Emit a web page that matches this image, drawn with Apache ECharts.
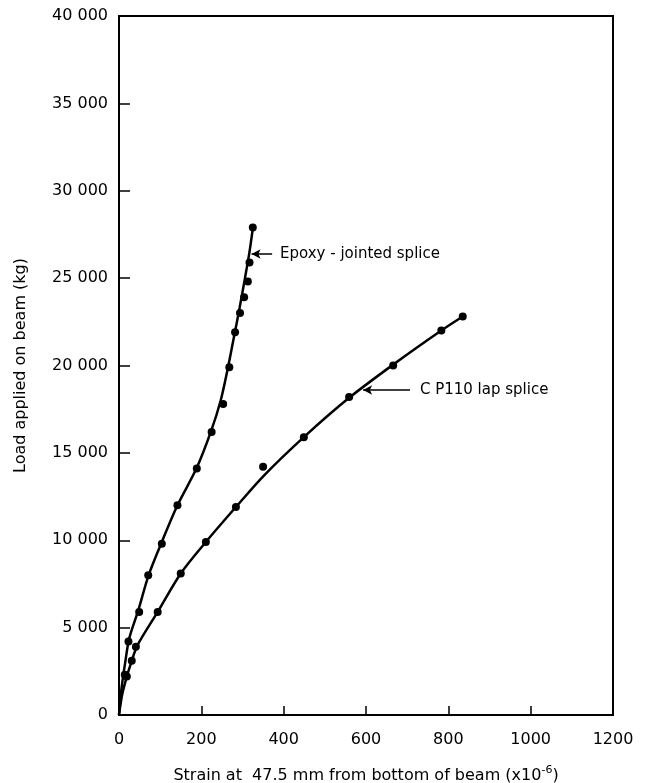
<!DOCTYPE html>
<html>
<head>
<meta charset="utf-8">
<script src="https://cdn.jsdelivr.net/npm/echarts@6/dist/echarts.min.js"></script>
<style>
  html, body { margin: 0; padding: 0; background: #fff; }
  #chart { width: 654px; height: 783px; }
</style>
</head>
<body>
<div id="chart"></div>
<script>
// measured points [strain, load]
const epoxyPoints = [
  [14, 2300], [23, 4200], [49, 5900], [71, 8000], [104, 9800], [142, 12000],
  [189, 14100], [225, 16200], [253, 17800], [268, 19900], [282, 21900],
  [294, 23000], [304, 23900], [313, 24800], [317, 25900], [325, 27900]
];
const lapPoints = [
  [19, 2200], [31, 3100], [41, 3900], [94, 5900], [150, 8100], [211, 9900],
  [284, 11900], [350, 14200], [449, 15900], [559, 18200], [666, 20000],
  [783, 22000], [835, 22800]
];
// fitted curves
const epoxyCurve = [
  [0, 0], [6, 1500], [15, 3000], [25, 4400], [47, 6000], [72, 8000],
  [104, 9900], [142, 12000], [188, 14100], [223, 16200], [247, 18000],
  [264, 19800], [279, 21600], [293, 23300], [306, 25000], [317, 26500], [326, 28000]
];
const lapCurve = [
  [0, 0], [8, 1200], [19, 2200], [31, 3100], [45, 4000], [94, 5900],
  [150, 8100], [211, 9900], [284, 11900], [352, 13700], [449, 15900],
  [559, 18150], [666, 20050], [783, 22000], [835, 22800]
];
// annotation: [arrow tail, arrow head, text anchor]
const epoxyNote = { text: 'Epoxy - jointed splice', tail: [372, 26380], head: [322, 26380], at: [391, 26380] };
const lapNote = { text: 'C P110 lap splice', tail: [707, 18600], head: [593, 18600], at: [731, 18600] };

const xTicks = [0, 200, 400, 600, 800, 1000, 1200];
const yTicks = [0, 5000, 10000, 15000, 20000, 25000, 30000, 35000, 40000];

const FONT = 'DejaVu Sans';
const chart = echarts.init(document.getElementById('chart'));

function fmt(v) {
  return String(v).replace(/\B(?=(\d{3})+(?!\d))/g, ' ');
}

function arrow(note) {
  return {
    silent: true,
    animation: false,
    lineStyle: { color: '#000', width: 1.5, type: 'solid', opacity: 1 },
    label: { show: false },
    data: [[
      { coord: note.tail, symbol: 'none' },
      { coord: note.head, symbol: 'arrow', symbolSize: [7, 9] }
    ]]
  };
}

function noteSeries(note) {
  return {
    type: 'scatter',
    data: [note.at],
    symbolSize: 0,
    silent: true,
    itemStyle: { opacity: 1 },
    label: {
      show: true,
      position: 'right',
      distance: 0,
      formatter: note.text,
      color: '#000',
      fontFamily: FONT,
      fontSize: 15
    }
  };
}

const option = {
  animation: false,
  grid: {
    left: 119, right: 41, top: 16, bottom: 68,
    outerBoundsMode: 'none',
    containLabel: false,
    show: true, borderColor: '#000', borderWidth: 2
  },
  xAxis: {
    type: 'value',
    min: 0, max: 1200, interval: 200,
    name: 'Strain at  47.5 mm from bottom of beam (x10{sup|-6})',
    nameLocation: 'middle',
    nameGap: 50,
    nameTextStyle: {
      color: '#000', fontFamily: FONT, fontSize: 16,
      rich: { sup: { fontSize: 11, fontFamily: FONT, color: '#000', padding: [0, 0, 10, 0] } }
    },
    axisLine: { show: true, lineStyle: { color: '#000', width: 2 } },
    axisTick: { show: true, inside: true, length: 9, lineStyle: { color: '#000', width: 1.5 } },
    axisLabel: { color: '#000', fontFamily: FONT, fontSize: 16, margin: 17,
      formatter: v => xTicks.includes(v) ? String(v) : '' },
    splitLine: { show: false }
  },
  yAxis: {
    type: 'value',
    min: 0, max: 40000, interval: 5000,
    name: 'Load applied on beam (kg)',
    nameLocation: 'middle',
    nameGap: 90,
    nameTextStyle: { color: '#000', fontFamily: FONT, fontSize: 16 },
    axisLine: { show: true, lineStyle: { color: '#000', width: 2 } },
    axisTick: { show: true, inside: true, length: 11, lineStyle: { color: '#000', width: 1.5 } },
    axisLabel: { color: '#000', fontFamily: FONT, fontSize: 16, margin: 11,
      formatter: v => yTicks.includes(v) ? fmt(v) : '' },
    splitLine: { show: false }
  },
  series: [
    {
      type: 'line', data: epoxyCurve, smooth: 0.3, showSymbol: false,
      lineStyle: { color: '#000', width: 2.5 }, silent: true,
      markLine: arrow(epoxyNote)
    },
    {
      type: 'line', data: lapCurve, smooth: 0.3, showSymbol: false,
      lineStyle: { color: '#000', width: 2.5 }, silent: true,
      markLine: arrow(lapNote)
    },
    { type: 'scatter', data: epoxyPoints, symbolSize: 8, itemStyle: { color: '#000', opacity: 1 }, silent: true },
    { type: 'scatter', data: lapPoints, symbolSize: 8, itemStyle: { color: '#000', opacity: 1 }, silent: true },
    noteSeries(epoxyNote),
    noteSeries(lapNote)
  ]
};

chart.setOption(option);
</script>
</body>
</html>
